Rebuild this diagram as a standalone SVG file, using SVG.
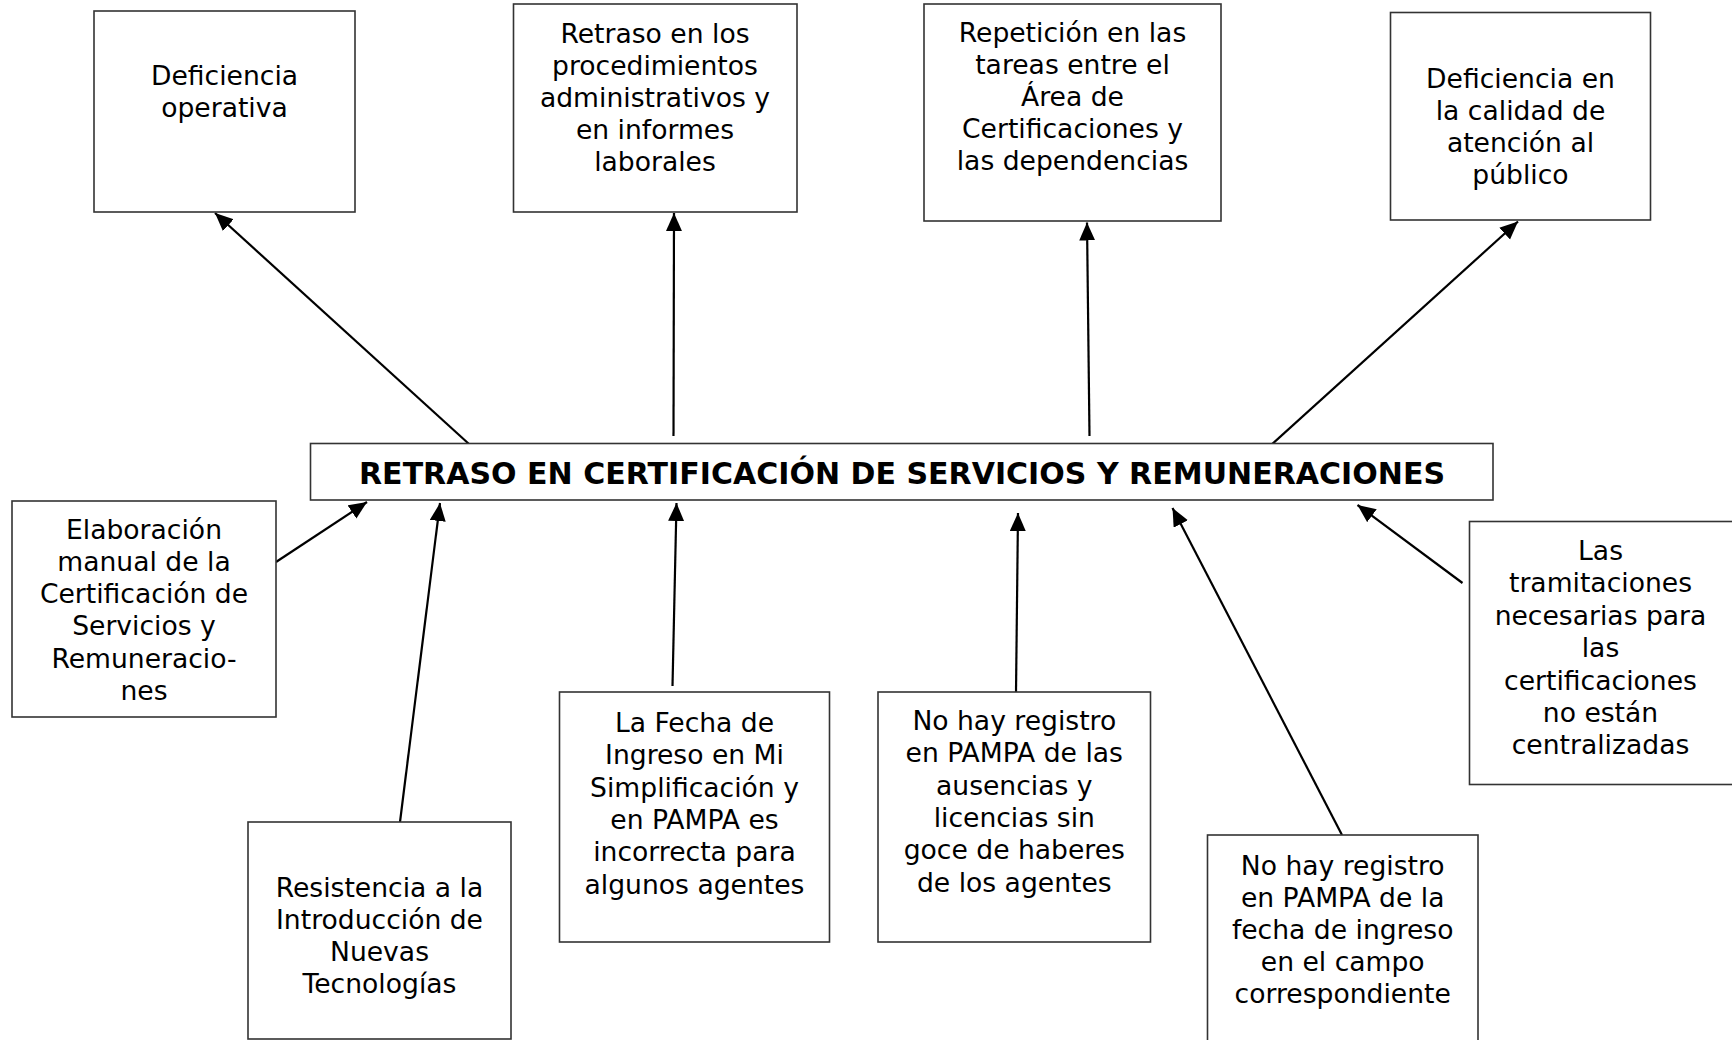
<svg xmlns="http://www.w3.org/2000/svg" width="1732" height="1040" viewBox="0 0 1732 1040">
<style>
.box{fill:#fff;stroke:#333;stroke-width:1.6}
.t{font-family:"DejaVu Sans","Verdana",sans-serif;font-size:26.6px;fill:#000;text-anchor:middle}
.title{font-family:"DejaVu Sans","Verdana",sans-serif;font-size:30px;font-weight:bold;fill:#000;text-anchor:middle}
.arr{stroke:#000;stroke-width:2.2;fill:none;marker-end:url(#ah)}
</style>
<defs>
<marker id="ah" markerUnits="userSpaceOnUse" markerWidth="19" markerHeight="17" refX="18" refY="8" orient="auto">
<path d="M0,0 L18,8 L0,16 z" fill="#000"/>
</marker>
</defs>
<rect width="1732" height="1040" fill="#fff"/>

<g id="connectors">
<line class="arr" x1="469" y1="444" x2="215" y2="213"/>
<line class="arr" x1="673.5" y1="436" x2="674" y2="213"/>
<line class="arr" x1="1089.5" y1="436" x2="1087" y2="222.5"/>
<line class="arr" x1="1269" y1="447" x2="1518" y2="221.5"/>
<line class="arr" x1="276" y1="562" x2="367" y2="502"/>
<line class="arr" x1="400" y1="822" x2="440" y2="503"/>
<line class="arr" x1="672.5" y1="686" x2="676.5" y2="503"/>
<line class="arr" x1="1016" y1="692" x2="1018" y2="513"/>
<line class="arr" x1="1342" y1="835" x2="1172.5" y2="508"/>
<line class="arr" x1="1462.5" y1="583" x2="1357.5" y2="505"/>
</g>

<g id="n-deficiencia-operativa">
<rect class="box" x="94" y="11" width="261" height="201"/>
<text class="t" x="224.5" y="85">Deficiencia</text>
<text class="t" x="224.5" y="117">operativa</text>
</g>

<g id="n-retraso-procedimientos">
<rect class="box" x="513.5" y="4" width="283.5" height="208"/>
<text class="t" x="655" y="42.5">Retraso en los</text>
<text class="t" x="655" y="74.5">procedimientos</text>
<text class="t" x="655" y="106.5">administrativos y</text>
<text class="t" x="655" y="138.5">en informes</text>
<text class="t" x="655" y="170.5">laborales</text>
</g>

<g id="n-repeticion">
<rect class="box" x="924" y="4" width="297" height="217"/>
<text class="t" x="1072.5" y="42">Repetición en las</text>
<text class="t" x="1072.5" y="74">tareas entre el</text>
<text class="t" x="1072.5" y="106">Área de</text>
<text class="t" x="1072.5" y="138">Certificaciones y</text>
<text class="t" x="1072.5" y="170">las dependencias</text>
</g>

<g id="n-deficiencia-calidad">
<rect class="box" x="1390.5" y="12.5" width="260" height="207.5"/>
<text class="t" x="1520.5" y="88">Deficiencia en</text>
<text class="t" x="1520.5" y="120">la calidad de</text>
<text class="t" x="1520.5" y="152">atención al</text>
<text class="t" x="1520.5" y="184">público</text>
</g>

<g id="n-central">
<rect class="box" x="310.5" y="443.5" width="1182.5" height="56.5"/>
<text class="title" x="902" y="483.5" textLength="1086">RETRASO EN CERTIFICACIÓN DE SERVICIOS Y REMUNERACIONES</text>
</g>

<g id="n-elaboracion">
<rect class="box" x="12" y="501" width="264" height="216"/>
<text class="t" x="144" y="538.5">Elaboración</text>
<text class="t" x="144" y="570.8">manual de la</text>
<text class="t" x="144" y="603.1">Certificación de</text>
<text class="t" x="144" y="635.4">Servicios y</text>
<text class="t" x="144" y="667.7">Remuneracio-</text>
<text class="t" x="144" y="700">nes</text>
</g>

<g id="n-resistencia">
<rect class="box" x="248" y="822" width="263" height="217"/>
<text class="t" x="379.5" y="896.5">Resistencia a la</text>
<text class="t" x="379.5" y="928.5">Introducción de</text>
<text class="t" x="379.5" y="960.5">Nuevas</text>
<text class="t" x="379.5" y="992.5">Tecnologías</text>
</g>

<g id="n-fecha-ingreso">
<rect class="box" x="559.5" y="692" width="270" height="250"/>
<text class="t" x="694.5" y="732">La Fecha de</text>
<text class="t" x="694.5" y="764.3">Ingreso en Mi</text>
<text class="t" x="694.5" y="796.6">Simplificación y</text>
<text class="t" x="694.5" y="828.9">en PAMPA es</text>
<text class="t" x="694.5" y="861.2">incorrecta para</text>
<text class="t" x="694.5" y="893.5">algunos agentes</text>
</g>

<g id="n-ausencias">
<rect class="box" x="878" y="692" width="272.5" height="250"/>
<text class="t" x="1014.3" y="730">No hay registro</text>
<text class="t" x="1014.3" y="762.3">en PAMPA de las</text>
<text class="t" x="1014.3" y="794.6">ausencias y</text>
<text class="t" x="1014.3" y="826.9">licencias sin</text>
<text class="t" x="1014.3" y="859.2">goce de haberes</text>
<text class="t" x="1014.3" y="891.5">de los agentes</text>
</g>

<g id="n-registro-fecha">
<rect class="box" x="1207.5" y="835" width="270.5" height="215"/>
<text class="t" x="1342.7" y="874.5">No hay registro</text>
<text class="t" x="1342.7" y="906.5">en PAMPA de la</text>
<text class="t" x="1342.7" y="938.5">fecha de ingreso</text>
<text class="t" x="1342.7" y="970.5">en el campo</text>
<text class="t" x="1342.7" y="1002.5">correspondiente</text>
</g>

<g id="n-tramitaciones">
<rect class="box" x="1469.5" y="521.5" width="270" height="263"/>
<text class="t" x="1600.5" y="560">Las</text>
<text class="t" x="1600.5" y="592.4">tramitaciones</text>
<text class="t" x="1600.5" y="624.8">necesarias para</text>
<text class="t" x="1600.5" y="657.2">las</text>
<text class="t" x="1600.5" y="689.6">certificaciones</text>
<text class="t" x="1600.5" y="722">no están</text>
<text class="t" x="1600.5" y="754.4">centralizadas</text>
</g>
</svg>
